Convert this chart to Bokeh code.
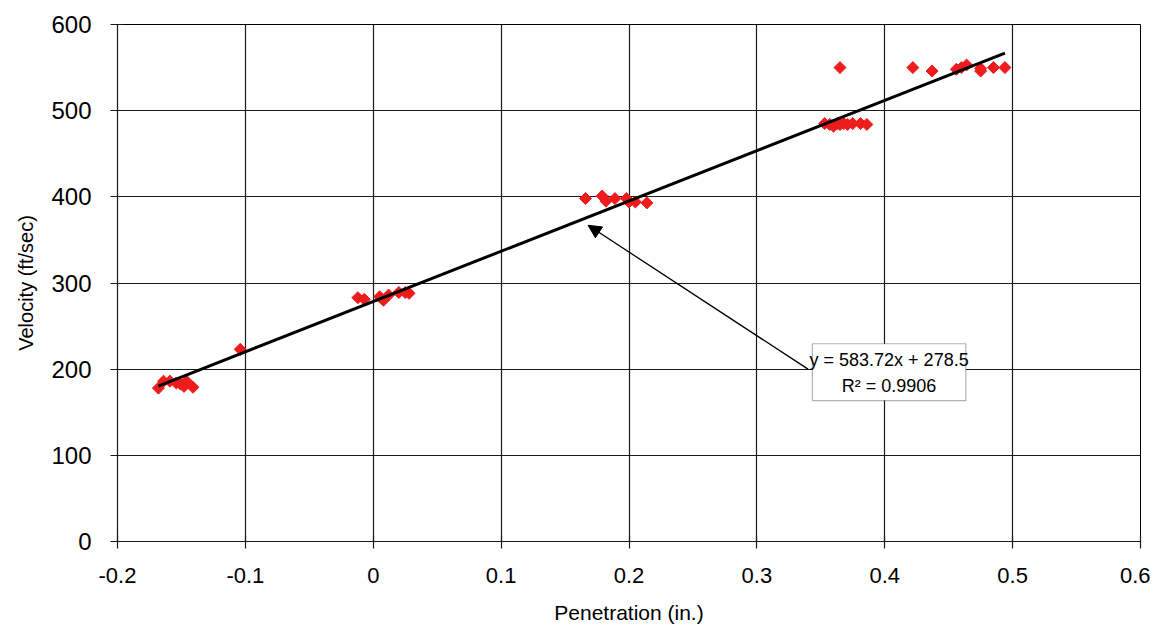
from bokeh.plotting import figure
from bokeh.models import (ColumnDataSource, FixedTicker, NumeralTickFormatter, Range1d,
                          BoxAnnotation, Arrow, NormalHead, Label)
from bokeh.embed import file_html
from bokeh.resources import INLINE

# Data
penetration = [-0.168, -0.164, -0.159, -0.154, -0.151, -0.148, -0.146, -0.141, -0.104,
               -0.012, -0.007, 0.005, 0.008, 0.012, 0.020, 0.025, 0.028,
               0.166, 0.179, 0.182, 0.189, 0.198, 0.200, 0.205, 0.214,
               0.353, 0.357, 0.360, 0.363, 0.365, 0.368, 0.371, 0.375, 0.381, 0.386,
               0.365, 0.422, 0.437, 0.456, 0.460, 0.464, 0.475, 0.475, 0.485, 0.494]
velocity = [178, 186, 186, 184, 183, 180, 186, 179, 223,
            283, 281, 284, 280, 286, 289, 289, 288,
            398, 401, 395, 398, 398, 394, 394, 393,
            485, 484, 482, 485, 484, 485, 484, 485, 485, 484,
            550, 550, 546, 548, 550, 553, 546, 549, 550, 550]
slope = 583.72
intercept = 278.5
fit_x = [-0.168, 0.494]
fit_y = [slope * v + intercept for v in fit_x]
x_ticks = [-0.2, -0.1, 0, 0.1, 0.2, 0.3, 0.4, 0.5, 0.6]
y_ticks = [0, 100, 200, 300, 400, 500, 600]
eq_text = "y = 583.72x + 278.5"
r2_text = "R² = 0.9906"

p = figure(width=1150, height=626, output_backend="svg", toolbar_location=None,
           x_range=Range1d(-0.2, 0.6), y_range=Range1d(0, 600),
           min_border_left=117, min_border_right=10, min_border_top=24, min_border_bottom=85)

p.outline_line_color = "black"
p.outline_line_width = 1
p.background_fill_color = "white"
p.border_fill_color = "white"

p.xgrid.grid_line_color = "#1a1a1a"
p.ygrid.grid_line_color = "#1a1a1a"
p.xgrid.grid_line_width = 1.2
p.ygrid.grid_line_width = 1.2
p.xaxis.ticker = FixedTicker(ticks=x_ticks)
p.yaxis.ticker = FixedTicker(ticks=y_ticks)
p.xaxis.formatter = NumeralTickFormatter(format="0.[0]")
p.xgrid.ticker = FixedTicker(ticks=x_ticks)
p.ygrid.ticker = FixedTicker(ticks=y_ticks)

for ax in (p.xaxis[0], p.yaxis[0]):
    ax.axis_line_color = "#1a1a1a"
    ax.axis_line_width = 1.2
    ax.major_tick_line_color = "#1a1a1a"
    ax.major_tick_line_width = 1.2
    ax.major_tick_in = 6
    ax.major_tick_out = 7
    ax.minor_tick_line_color = None
    ax.major_label_text_color = "black"
    ax.axis_label_text_color = "black"
    ax.axis_label_text_font_style = "normal"

p.xaxis.major_label_text_font = "Liberation Sans"
p.xaxis.major_label_text_font_size = "22px"
p.xaxis.major_label_standoff = 19
p.xaxis.axis_label = "Penetration (in.)"
p.xaxis.axis_label_text_font = "Liberation Sans"
p.xaxis.axis_label_text_font_size = "21px"
p.xaxis.axis_label_standoff = 15

p.yaxis.major_label_text_font = "Liberation Sans"
p.yaxis.major_label_text_font_size = "24px"
p.yaxis.major_label_standoff = 19
p.yaxis.axis_label = "Velocity (ft/sec)"
p.yaxis.axis_label_text_font = "Liberation Sans"
p.yaxis.axis_label_text_font_size = "20px"
p.yaxis.axis_label_standoff = 11

src = ColumnDataSource(dict(x=penetration, y=velocity))
p.scatter("x", "y", source=src, marker="square", angle=0.785398, size=8.5,
          fill_color="#ee1c1c", line_color="#ee1c1c")

p.line(fit_x, fit_y, line_color="black", line_width=3)

p.add_layout(Arrow(end=NormalHead(size=13, fill_color="black", line_color="black"),
                   x_start=0.340, y_start=200, x_end=0.168, y_end=367,
                   line_color="black", line_width=1.3))

p.add_layout(BoxAnnotation(left=0.3434, right=0.4634, bottom=163.5, top=229.5,
                           fill_color="white", fill_alpha=1, line_color="black",
                           line_width=1.2))

p.add_layout(Label(x=0.4034, y=211, text=eq_text, text_align="center", text_baseline="middle",
                   text_font="Liberation Sans", text_font_size="18px", text_color="black"))
p.add_layout(Label(x=0.4034, y=180, text=r2_text, text_align="center", text_baseline="middle",
                   text_font="Liberation Sans", text_font_size="18px", text_color="black"))

open("out.html", "w").write(file_html(p, INLINE))
